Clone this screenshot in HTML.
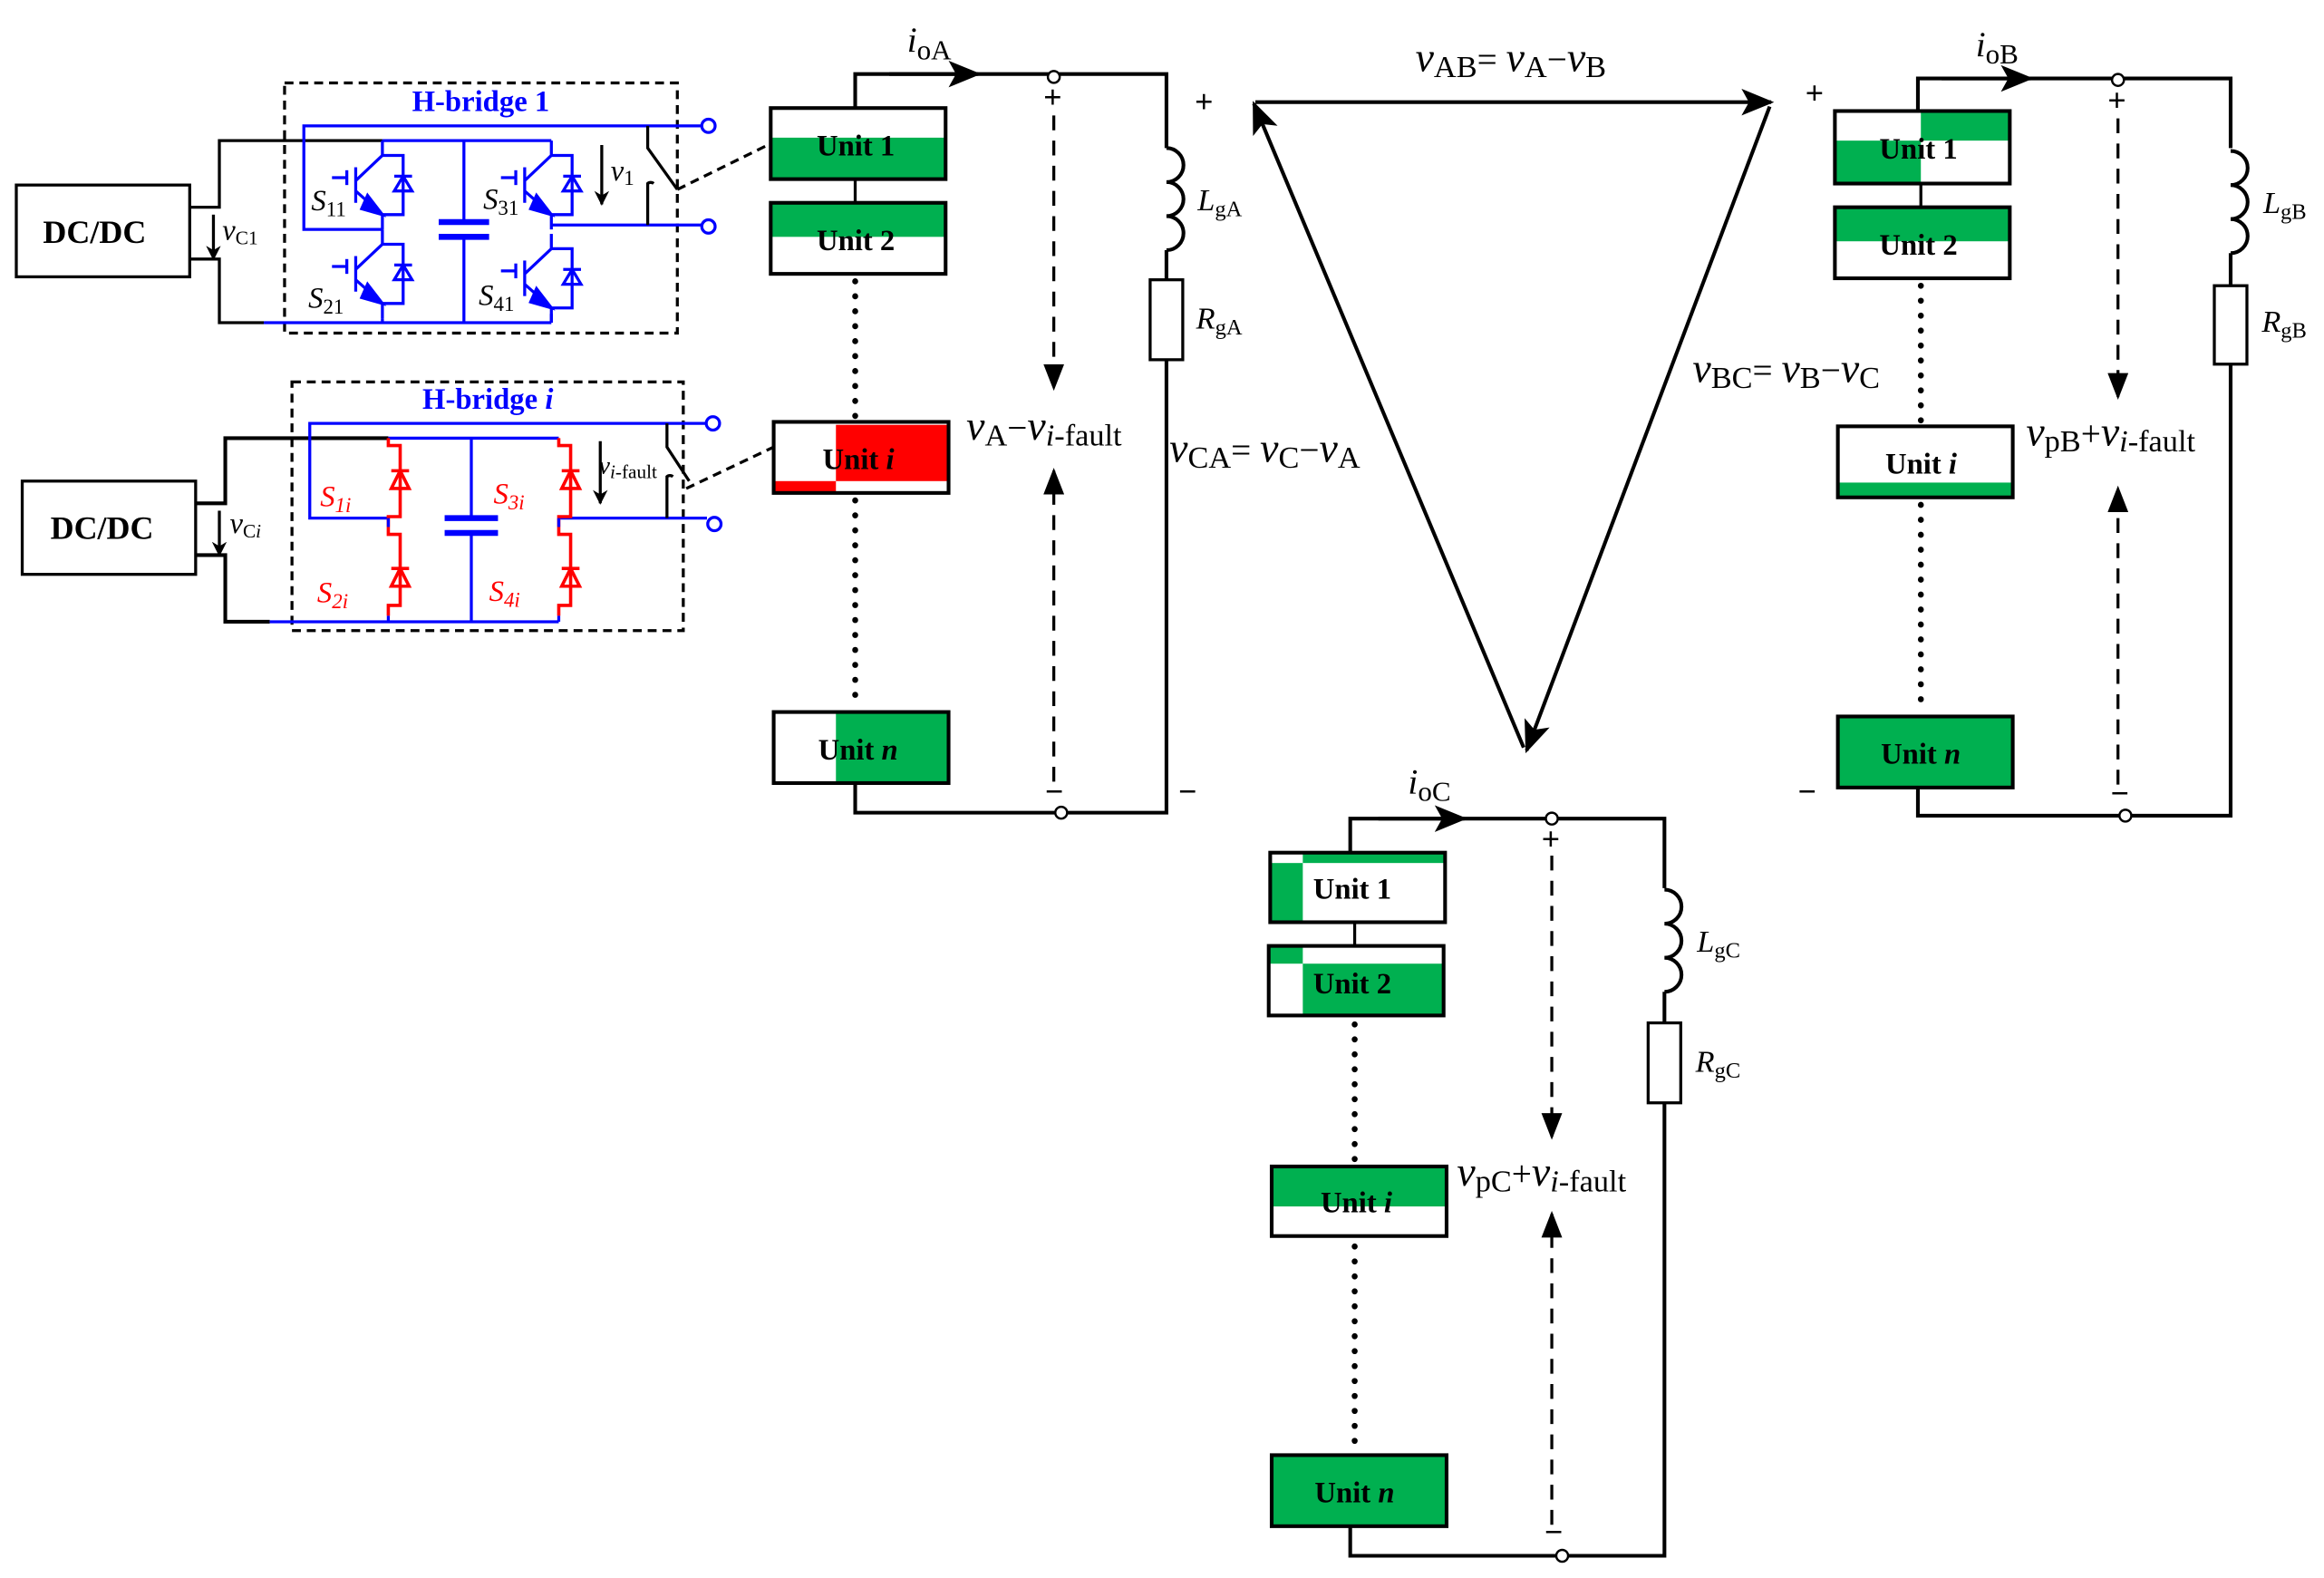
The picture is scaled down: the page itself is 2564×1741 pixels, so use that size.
<!DOCTYPE html>
<html><head><meta charset="utf-8"><style>
html,body{margin:0;padding:0;background:#fff;}
svg{display:block;}
svg text, svg tspan{font-family:"Liberation Serif","DejaVu Serif",serif !important;}
.u{font-weight:bold;font-size:20px;}
</style></head><body>
<svg width="2564" height="1741" viewBox="0 0 1568 1066" preserveAspectRatio="none" xmlns="http://www.w3.org/2000/svg" font-family="Liberation Serif, serif">
<defs>
<marker id="ah" markerWidth="10" markerHeight="10" refX="9" refY="5" orient="auto" markerUnits="userSpaceOnUse" viewBox="0 0 10 10">
<path d="M0,0 L10,5 L0,10 L3,5 z" fill="#000"/></marker>
<marker id="ahb" markerWidth="22" markerHeight="18" refX="20" refY="9" orient="auto" markerUnits="userSpaceOnUse" viewBox="0 0 22 18">
<path d="M0,0 L22,9 L0,18 L5,9 z" fill="#000"/></marker>
<marker id="ahs" markerWidth="18" markerHeight="14" refX="16" refY="7" orient="auto" markerUnits="userSpaceOnUse" viewBox="0 0 18 14">
<path d="M0,0 L18,7 L0,14 z" fill="#000"/></marker>
<g id="igbt" stroke="#00f" stroke-width="2" fill="none">
<line x1="0" y1="0" x2="0" y2="10"/>
<line x1="0" y1="10" x2="-18" y2="27"/>
<line x1="-18" y1="18" x2="-18" y2="42"/>
<line x1="-24" y1="20" x2="-24" y2="30"/>
<line x1="-34" y1="25" x2="-24" y2="25"/>
<line x1="-18" y1="34" x2="0" y2="50"/>
<path d="M-10,37 L0,50 L-14,46 z" fill="#00f"/>
<line x1="0" y1="50" x2="0" y2="60"/>
<polyline points="0,10 14,10 14,50 0,50"/>
<path d="M8,34 L20,34 L14,24 z"/>
<line x1="8" y1="24" x2="20" y2="24"/>
</g>
<g id="rsw" stroke="#f00" stroke-width="2.2" fill="none">
<polyline points="0,0 0,5 8,5 8,53 0,53 0,60"/>
<path d="M2,34 L14,34 L8,22 z"/>
<line x1="2" y1="22" x2="14" y2="22"/>
</g>
<g id="rswd" stroke="#f00" stroke-width="2.2" fill="none">
<polyline points="0,0 0,5 8,5 8,53 0,53 0,60"/>
<path d="M2,40 L14,40 L8,28 z"/>
<line x1="2" y1="28" x2="14" y2="28"/>
</g>
</defs>

<g stroke="#000" fill="none" stroke-width="2">
<rect x="192" y="56" width="265" height="169" stroke-dasharray="6,4"/>
<rect x="11" y="125" width="117" height="62"/>
<polyline points="128,140 148,140 148,95 258,95"/>
<polyline points="128,175 148,175 148,218 178,218"/>
<line x1="144" y1="145" x2="144" y2="175" marker-end="url(#ah)"/>
<rect x="197" y="258" width="264" height="168" stroke-dasharray="6,4"/>
<rect x="15" y="325" width="117" height="63"/>
<polyline points="132,340 152,340 152,296 262,296" stroke-width="2.5"/>
<polyline points="132,375 152,375 152,420 182,420" stroke-width="2.5"/>
<line x1="148" y1="345" x2="148" y2="375" marker-end="url(#ah)"/>
</g>
<g stroke="#00f" fill="none" stroke-width="2">
<polyline points="473,85 205,85 205,155 258,155"/>
<line x1="258" y1="95" x2="372" y2="95"/>
<line x1="178" y1="218" x2="372" y2="218"/>
<line x1="372" y1="152" x2="473" y2="152"/>
<line x1="313" y1="95" x2="313" y2="150"/>
<line x1="313" y1="160" x2="313" y2="218"/>
<line x1="296" y1="150" x2="330" y2="150" stroke-width="4"/>
<line x1="296" y1="160" x2="330" y2="160" stroke-width="4"/>
<circle cx="478" cy="85" r="4.5"/><circle cx="478" cy="153" r="4.5"/>
<polyline points="477,286 209,286 209,350 262,350"/>
<line x1="262" y1="296" x2="377" y2="296"/>
<line x1="182" y1="420" x2="377" y2="420"/>
<line x1="377" y1="350" x2="477" y2="350"/>
<line x1="318" y1="296" x2="318" y2="350"/>
<line x1="318" y1="360" x2="318" y2="420"/>
<line x1="300" y1="350" x2="336" y2="350" stroke-width="4"/>
<line x1="300" y1="360" x2="336" y2="360" stroke-width="4"/>
<circle cx="481" cy="286" r="4.5"/><circle cx="482" cy="354" r="4.5"/>
</g>
<use href="#igbt" x="258" y="95"/>
<use href="#igbt" x="258" y="155"/>
<use href="#igbt" x="372" y="95"/>
<use href="#igbt" x="372" y="152" transform="translate(0,6)"/>
<g stroke="#00f" stroke-width="2"><line x1="258" y1="215" x2="258" y2="218"/><line x1="372" y1="212" x2="372" y2="218"/></g>
<use href="#rsw" x="262" y="296"/>
<use href="#rswd" x="262" y="356"/>
<use href="#rsw" x="377" y="296"/>
<use href="#rswd" x="377" y="356"/>
<g stroke="#00f" stroke-width="2"><line x1="262" y1="350" x2="262" y2="356"/><line x1="377" y1="350" x2="377" y2="356"/><line x1="262" y1="416" x2="262" y2="420"/><line x1="377" y1="416" x2="377" y2="420"/></g>
<g stroke="#000" stroke-width="2" fill="none">
<polyline points="437,85 437,100 457,128"/>
<path d="M437,152 L437,124 a3,3 0 0 1 4,0"/>
<line x1="406" y1="98" x2="406" y2="138" marker-end="url(#ah)"/>
<polyline points="450,286 450,302 465,325"/>
<path d="M450,350 L450,322 a3,3 0 0 1 4,0"/>
<line x1="405" y1="298" x2="405" y2="340" marker-end="url(#ah)"/>
<line x1="457" y1="128" x2="520" y2="97" stroke-dasharray="6,4"/>
<line x1="463" y1="330" x2="522" y2="302" stroke-dasharray="6,4"/>
</g>
<g font-size="20" fill="#00f" font-weight="bold">
<text x="278" y="75">H-bridge 1</text>
<text x="285" y="276">H-bridge <tspan font-style="italic">i</tspan></text>
</g>
<g font-size="22" font-weight="bold"><text x="29" y="164">DC/DC</text><text x="34" y="364">DC/DC</text></g>
<g font-size="20" font-style="italic">
<text x="150" y="162">v<tspan font-size="13" font-style="normal" dy="3">C1</tspan></text>
<text x="155" y="360">v<tspan font-size="13" font-style="normal" dy="3">C<tspan font-style="italic">i</tspan></tspan></text>
<text x="210" y="142">S<tspan font-size="14" font-style="normal" dy="4">11</tspan></text>
<text x="208" y="208">S<tspan font-size="14" font-style="normal" dy="4">21</tspan></text>
<text x="326" y="141">S<tspan font-size="14" font-style="normal" dy="4">31</tspan></text>
<text x="323" y="206">S<tspan font-size="14" font-style="normal" dy="4">41</tspan></text>
<text x="412" y="122">v<tspan font-size="14" font-style="normal" dy="3">1</tspan></text>
<text x="404" y="320" font-size="17">v<tspan font-size="13" dy="3">i</tspan><tspan font-size="13" font-style="normal">-fault</tspan></text>
<g fill="#f00">
<text x="216" y="342">S<tspan font-size="14" dy="4">1i</tspan></text>
<text x="214" y="407">S<tspan font-size="14" dy="4">2i</tspan></text>
<text x="333" y="340">S<tspan font-size="14" dy="4">3i</tspan></text>
<text x="330" y="406">S<tspan font-size="14" dy="4">4i</tspan></text>
</g>
</g>

<!-- Phase A -->
<g stroke="#000" stroke-width="2.5" fill="none">
<polyline points="577,73 577,50 787,50 787,100"/>
<line x1="600" y1="50" x2="660" y2="50" marker-end="url(#ahb)"/>
<path d="M787,100 a11.5,11.5 0 0 1 0,23 a11.5,11.5 0 0 1 0,23 a11.5,11.5 0 0 1 0,23"/>
<line x1="787" y1="169" x2="787" y2="189"/>
<rect x="776" y="189" width="22" height="54" stroke-width="2"/>
<polyline points="787,243 787,549 577,549 577,529"/>
<line x1="577" y1="121" x2="577" y2="137" stroke-width="2"/>
</g>
<g fill="#fff" stroke="#000" stroke-width="1.5"><circle cx="711" cy="52" r="4"/><circle cx="716" cy="549" r="4"/></g>
<g stroke="#000" stroke-width="2" fill="none">
<line x1="711" y1="78" x2="711" y2="262" stroke-dasharray="10,7" marker-end="url(#ahs)"/>
<line x1="711" y1="528" x2="711" y2="318" stroke-dasharray="10,7" marker-end="url(#ahs)"/>
<line x1="577" y1="190" x2="577" y2="282" stroke-width="4" stroke-dasharray="0.1,10" stroke-linecap="round"/>
<line x1="577" y1="338" x2="577" y2="478" stroke-width="4" stroke-dasharray="0.1,10" stroke-linecap="round"/>
</g>
<rect x="520" y="93" width="118" height="28" fill="#00b050"/>
<rect x="520" y="73" width="118" height="48" fill="none" stroke="#000" stroke-width="2.5"/>
<rect x="520" y="137" width="118" height="23" fill="#00b050"/>
<rect x="520" y="137" width="118" height="48" fill="none" stroke="#000" stroke-width="2.5"/>
<rect x="564" y="287" width="76" height="38" fill="#f00"/>
<rect x="522" y="325" width="42" height="8" fill="#f00"/>
<rect x="522" y="285" width="118" height="48" fill="none" stroke="#000" stroke-width="2.5"/>
<rect x="564" y="481" width="76" height="48" fill="#00b050"/>
<rect x="522" y="481" width="118" height="48" fill="none" stroke="#000" stroke-width="2.5"/>
<g><text x="551" y="105" class="u">Unit 1</text><text x="551" y="169" class="u">Unit 2</text>
<text x="555" y="317" class="u">Unit <tspan font-style="italic">i</tspan></text><text x="552" y="513" class="u">Unit <tspan font-style="italic">n</tspan></text></g>

<!-- Phase B -->
<g stroke="#000" stroke-width="2.5" fill="none">
<polyline points="1294,75 1294,53 1505,53 1505,100"/>
<line x1="1310" y1="53" x2="1370" y2="53" marker-end="url(#ahb)"/>
<path d="M1505,102 a11.5,11.5 0 0 1 0,23 a11.5,11.5 0 0 1 0,23 a11.5,11.5 0 0 1 0,23"/>
<line x1="1505" y1="171" x2="1505" y2="193"/>
<rect x="1494" y="193" width="22" height="53" stroke-width="2"/>
<polyline points="1505,246 1505,551 1294,551 1294,532"/>
<line x1="1296" y1="124" x2="1296" y2="140" stroke-width="2"/>
</g>
<g fill="#fff" stroke="#000" stroke-width="1.5"><circle cx="1429" cy="54" r="4"/><circle cx="1434" cy="551" r="4"/></g>
<g stroke="#000" stroke-width="2" fill="none">
<line x1="1429" y1="80" x2="1429" y2="268" stroke-dasharray="10,7" marker-end="url(#ahs)"/>
<line x1="1429" y1="530" x2="1429" y2="330" stroke-dasharray="10,7" marker-end="url(#ahs)"/>
<line x1="1296" y1="193" x2="1296" y2="284" stroke-width="4" stroke-dasharray="0.1,10" stroke-linecap="round"/>
<line x1="1296" y1="341" x2="1296" y2="480" stroke-width="4" stroke-dasharray="0.1,10" stroke-linecap="round"/>
</g>
<rect x="1296" y="75" width="60" height="20" fill="#00b050"/>
<rect x="1238" y="95" width="58" height="29" fill="#00b050"/>
<rect x="1238" y="75" width="118" height="49" fill="none" stroke="#000" stroke-width="2.5"/>
<rect x="1238" y="140" width="118" height="23" fill="#00b050"/>
<rect x="1238" y="140" width="118" height="48" fill="none" stroke="#000" stroke-width="2.5"/>
<rect x="1240" y="326" width="118" height="10" fill="#00b050"/>
<rect x="1240" y="288" width="118" height="48" fill="none" stroke="#000" stroke-width="2.5"/>
<rect x="1240" y="484" width="118" height="48" fill="#00b050" stroke="#000" stroke-width="2.5"/>
<g><text x="1268" y="107" class="u">Unit 1</text><text x="1268" y="172" class="u">Unit 2</text>
<text x="1272" y="320" class="u">Unit <tspan font-style="italic">i</tspan></text><text x="1269" y="516" class="u">Unit <tspan font-style="italic">n</tspan></text></g>

<!-- Phase C -->
<g stroke="#000" stroke-width="2.5" fill="none">
<polyline points="911,576 911,553 1123,553 1123,600"/>
<line x1="930" y1="553" x2="988" y2="553" marker-end="url(#ahb)"/>
<path d="M1123,601 a11.5,11.5 0 0 1 0,23 a11.5,11.5 0 0 1 0,23 a11.5,11.5 0 0 1 0,23"/>
<line x1="1123" y1="670" x2="1123" y2="691"/>
<rect x="1112" y="691" width="22" height="54" stroke-width="2"/>
<polyline points="1123,745 1123,1051 911,1051 911,1031"/>
<line x1="914" y1="623" x2="914" y2="639" stroke-width="2"/>
</g>
<g fill="#fff" stroke="#000" stroke-width="1.5"><circle cx="1047" cy="553" r="4"/><circle cx="1054" cy="1051" r="4"/></g>
<g stroke="#000" stroke-width="2" fill="none">
<line x1="1047" y1="578" x2="1047" y2="768" stroke-dasharray="10,7" marker-end="url(#ahs)"/>
<line x1="1047" y1="1030" x2="1047" y2="820" stroke-dasharray="10,7" marker-end="url(#ahs)"/>
<line x1="914" y1="692" x2="914" y2="784" stroke-width="4" stroke-dasharray="0.1,10" stroke-linecap="round"/>
<line x1="914" y1="842" x2="914" y2="980" stroke-width="4" stroke-dasharray="0.1,10" stroke-linecap="round"/>
</g>
<rect x="879" y="576" width="96" height="7" fill="#00b050"/>
<rect x="857" y="583" width="22" height="40" fill="#00b050"/>
<rect x="857" y="576" width="118" height="47" fill="none" stroke="#000" stroke-width="2.5"/>
<rect x="856" y="639" width="23" height="12" fill="#00b050"/>
<rect x="879" y="651" width="95" height="35" fill="#00b050"/>
<rect x="856" y="639" width="118" height="47" fill="none" stroke="#000" stroke-width="2.5"/>
<rect x="858" y="788" width="118" height="27" fill="#00b050"/>
<rect x="858" y="788" width="118" height="47" fill="none" stroke="#000" stroke-width="2.5"/>
<rect x="858" y="983" width="118" height="48" fill="#00b050" stroke="#000" stroke-width="2.5"/>
<g><text x="886" y="607" class="u">Unit 1</text><text x="886" y="671" class="u">Unit 2</text>
<text x="891" y="819" class="u">Unit <tspan font-style="italic">i</tspan></text><text x="887" y="1015" class="u">Unit <tspan font-style="italic">n</tspan></text></g>

<!-- triangle -->
<g stroke="#000" stroke-width="2.5" fill="none">
<line x1="847" y1="69" x2="1195" y2="69" marker-end="url(#ahb)"/>
<line x1="1194" y1="72" x2="1030" y2="507" marker-end="url(#ahb)"/>
<line x1="1028" y1="505" x2="846" y2="70" marker-end="url(#ahb)"/>
</g>

<g font-size="24">
<text x="612" y="35" font-style="italic">i<tspan font-style="normal" font-size="19" dy="5">oA</tspan></text>
<text x="1333" y="38" font-style="italic">i<tspan font-style="normal" font-size="19" dy="5">oB</tspan></text>
<text x="950" y="536" font-style="italic">i<tspan font-style="normal" font-size="19" dy="5">oC</tspan></text>
<text x="955" y="48"><tspan font-style="italic" font-size="28">v</tspan><tspan font-size="21" dy="4">AB</tspan><tspan dy="-4">= </tspan><tspan font-style="italic" font-size="28">v</tspan><tspan font-size="21" dy="4">A</tspan><tspan dy="-4">−</tspan><tspan font-style="italic" font-size="28">v</tspan><tspan font-size="21" dy="4">B</tspan></text>
<text x="1142" y="258"><tspan font-style="italic" font-size="28">v</tspan><tspan font-size="21" dy="4">BC</tspan><tspan dy="-4">= </tspan><tspan font-style="italic" font-size="28">v</tspan><tspan font-size="21" dy="4">B</tspan><tspan dy="-4">−</tspan><tspan font-style="italic" font-size="28">v</tspan><tspan font-size="21" dy="4">C</tspan></text>
<text x="789" y="312"><tspan font-style="italic" font-size="28">v</tspan><tspan font-size="21" dy="4">CA</tspan><tspan dy="-4">= </tspan><tspan font-style="italic" font-size="28">v</tspan><tspan font-size="21" dy="4">C</tspan><tspan dy="-4">−</tspan><tspan font-style="italic" font-size="28">v</tspan><tspan font-size="21" dy="4">A</tspan></text>
<text x="652" y="297"><tspan font-style="italic" font-size="28">v</tspan><tspan font-size="21" dy="4">A</tspan><tspan dy="-4">−</tspan><tspan font-style="italic" font-size="28">v</tspan><tspan font-size="21" dy="4" font-style="italic">i</tspan><tspan font-size="21">-fault</tspan></text>
<text x="1367" y="301"><tspan font-style="italic" font-size="28">v</tspan><tspan font-size="21" dy="4">pB</tspan><tspan dy="-4">+</tspan><tspan font-style="italic" font-size="28">v</tspan><tspan font-size="21" dy="4" font-style="italic">i</tspan><tspan font-size="21">-fault</tspan></text>
<text x="983" y="801"><tspan font-style="italic" font-size="28">v</tspan><tspan font-size="21" dy="4">pC</tspan><tspan dy="-4">+</tspan><tspan font-style="italic" font-size="28">v</tspan><tspan font-size="21" dy="4" font-style="italic">i</tspan><tspan font-size="21">-fault</tspan></text>
</g>
<g font-size="21">
<text x="808" y="142" font-style="italic">L<tspan font-style="normal" font-size="15" dy="4">gA</tspan></text>
<text x="807" y="222" font-style="italic">R<tspan font-style="normal" font-size="15" dy="4">gA</tspan></text>
<text x="1527" y="144" font-style="italic">L<tspan font-style="normal" font-size="15" dy="4">gB</tspan></text>
<text x="1526" y="224" font-style="italic">R<tspan font-style="normal" font-size="15" dy="4">gB</tspan></text>
<text x="1145" y="643" font-style="italic">L<tspan font-style="normal" font-size="15" dy="4">gC</tspan></text>
<text x="1144" y="724" font-style="italic">R<tspan font-style="normal" font-size="15" dy="4">gC</tspan></text>
</g>
<g font-size="22" font-weight="bold">
<text x="806" y="76">+</text>
<text x="1218" y="70">+</text>
<text x="704" y="73">+</text>
<text x="1422" y="75">+</text>
<text x="1040" y="574">+</text>
<text x="795" y="542">−</text>
<text x="705" y="542">−</text>
<text x="1213" y="542">−</text>
<text x="1424" y="543">−</text>
<text x="1042" y="1042">−</text>
</g>
</svg>
</body></html>
